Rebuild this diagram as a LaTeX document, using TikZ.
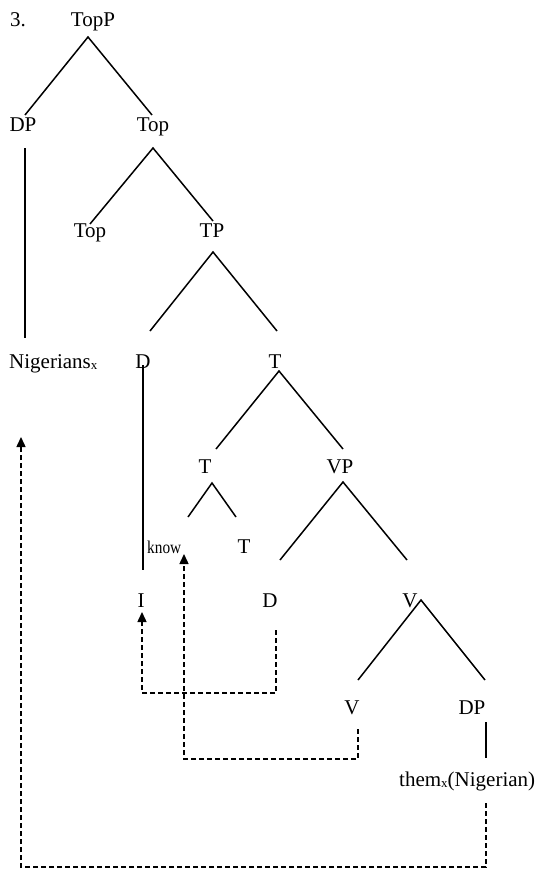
\documentclass[tikz,border=0pt]{standalone}
\usepackage{fontspec}
\setmainfont{Liberation Serif}
\usetikzlibrary{arrows.meta}
\newcommand{\subx}{{\fontsize{13}{13}\selectfont\raisebox{-1.2pt}{x}}}
\begin{document}
\begin{tikzpicture}[x=1pt,y=-1pt,
  lbl/.style={inner sep=0pt,anchor=base,font=\fontsize{21}{24}\selectfont},
  lblw/.style={lbl,anchor=base west},
  branch/.style={line width=1.5pt},
  trace/.style={line width=1.5pt,dash pattern=on 5pt off 3pt,-{Triangle[length=10pt,width=9pt]}}]
\useasboundingbox (0,0) rectangle (543,870);
% labels
\node[lblw] (num) at (10,26) {3.};
\node[lbl] (TopP) at (93,26) {TopP};
\node[lbl] (DP1) at (23,131) {DP};
\node[lbl] (Top1) at (153,131) {Top};
\node[lbl] (Top2) at (90,237) {Top};
\node[lbl] (TP) at (212,237) {TP};
\node[lblw] (Nig) at (9,368) {Nigerians\subx};
\node[lbl] (D1) at (143,368) {D};
\node[lbl] (T1) at (275,368) {T};
\node[lbl] (T2) at (205,473) {T};
\node[lbl] (VP) at (340,473) {VP};
\node[lblw,font=\fontsize{18}{20}\selectfont] (know) at (147,553) {\scalebox{0.85}[1]{know}};
\node[lbl] (T3) at (244,553) {T};
\node[lbl] (I) at (141,607) {I};
\node[lbl] (D2) at (270,607) {D};
\node[lbl] (V1) at (410,607) {V};
\node[lbl] (V2) at (352,714) {V};
\node[lbl] (DP2) at (472,714) {DP};
\node[lblw] (them) at (399,786) {them\subx(Nigerian)};
% branch points
\coordinate (TopP-a) at (88,37);
\coordinate (DP1-t) at (25,115);
\coordinate (Top1-t) at (152,115);
\coordinate (DP1-b) at (25,148);
\coordinate (Nig-t) at (25,338);
\coordinate (Top1-a) at (153,148);
\coordinate (Top2-t) at (90,224);
\coordinate (TP-t) at (213,221);
\coordinate (TP-a) at (213,252);
\coordinate (D1-t) at (150,331);
\coordinate (T1-t) at (277,331);
\coordinate (D1-a) at (143,365);
\coordinate (I-t) at (143,570);
\coordinate (T1-a) at (279,371);
\coordinate (T2-t) at (216,449);
\coordinate (VP-t) at (343,449);
\coordinate (T2-a) at (212,483);
\coordinate (know-t) at (188,517);
\coordinate (T3-t) at (236,517);
\coordinate (VP-a) at (343,482);
\coordinate (D2-t) at (280,560);
\coordinate (V1-t) at (407,560);
\coordinate (V1-a) at (421,600);
\coordinate (V2-t) at (358,680);
\coordinate (DP2-t) at (485,680);
\coordinate (DP2-b) at (486,722);
\coordinate (them-t) at (486,758);
% trace corners
\coordinate (D2-b) at (276,630);
\coordinate (c1) at (276,693);
\coordinate (c2) at (142,693);
\coordinate (I-b) at (142,612);
\coordinate (V2-b) at (358,729);
\coordinate (c3) at (358,759);
\coordinate (c4) at (184,759);
\coordinate (know-b) at (184,554);
\coordinate (them-b) at (486,803);
\coordinate (c5) at (486,867);
\coordinate (c6) at (21,867);
\coordinate (Nig-b) at (21,437);
% branches
\draw[branch] (DP1-t) -- (TopP-a) -- (Top1-t);
\draw[branch] (DP1-b) -- (Nig-t);
\draw[branch] (Top2-t) -- (Top1-a) -- (TP-t);
\draw[branch] (D1-t) -- (TP-a) -- (T1-t);
\draw[branch] (D1-a) -- (I-t);
\draw[branch] (T2-t) -- (T1-a) -- (VP-t);
\draw[branch] (know-t) -- (T2-a) -- (T3-t);
\draw[branch] (D2-t) -- (VP-a) -- (V1-t);
\draw[branch] (V2-t) -- (V1-a) -- (DP2-t);
\draw[branch] (DP2-b) -- (them-t);
% movement traces
\draw[trace] (D2-b) -- (c1) -- (c2) -- (I-b);
\draw[trace] (V2-b) -- (c3) -- (c4) -- (know-b);
\draw[trace] (them-b) -- (c5) -- (c6) -- (Nig-b);
\end{tikzpicture}
\end{document}
